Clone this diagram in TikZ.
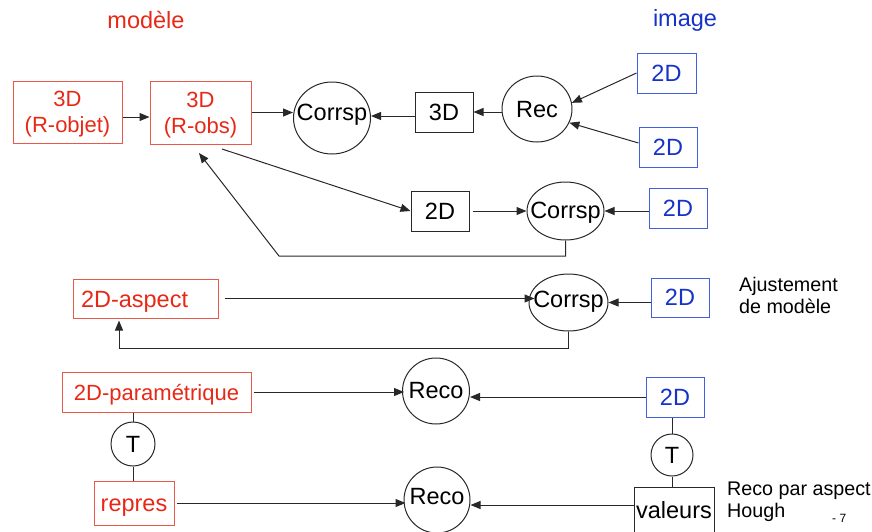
\documentclass[tikz,border=0pt]{standalone}
\usepackage{fontspec}
\setmainfont{Liberation Sans}
\usetikzlibrary{arrows.meta,shapes.geometric}
\definecolor{mred}{RGB}{232,40,22}
\definecolor{mredline}{RGB}{234,88,72}
\definecolor{iblue}{RGB}{22,50,200}
\definecolor{ibline}{RGB}{66,96,222}
\definecolor{ink}{RGB}{40,40,40}
\newcommand{\zerow}[1]{\makebox[0pt][c]{#1}}
\tikzset{
  big/.style={font=\fontsize{23.5}{27}\selectfont},
  mid/.style={font=\fontsize{22}{26}\selectfont},
  note/.style={font=\fontsize{19.7}{22}\selectfont, inner sep=0pt, anchor=base west},
  bx/.style={draw, rectangle, inner sep=0pt, line width=1pt, big},
  redbox/.style={bx, draw=mredline, text=mred, align=center},
  bluebox/.style={bx, draw=ibline, text=iblue},
  blackbox/.style={bx, draw=ink, text=black},
  oval/.style={draw=ink, ellipse, inner sep=0pt, line width=1pt, big, text height=17pt},
  arr/.style={draw=ink, line width=1pt, -{Triangle[length=10pt,width=8pt]}},
  ln/.style={draw=ink, line width=1pt},
}
\begin{document}
\begin{tikzpicture}[x=1pt, y=-1pt]
\useasboundingbox (0,0) rectangle (872,531);
\clip (0,0) rectangle (872,531);

% column headings
\node[big, text=mred] (hmod) at (146,20) {modèle};
\node[big, text=iblue] (himg) at (685,20) {image};

% first row: 3D reconstruction
\node[redbox, mid, text depth=0pt, minimum width=109pt, minimum height=62pt] (robjet) at (67.5,112) {3D\\(R-objet)};
\node[redbox, mid, text depth=0pt, minimum width=101pt, minimum height=63pt] (robs) at (200.5,112.5) {3D\\(R-obs)};
\node[oval, text depth=13pt, minimum width=77pt, minimum height=72pt] (c1) at (332,118) {\zerow{Corrsp}};
\node[blackbox, minimum width=58pt, minimum height=40pt] (b3d) at (444,112) {3D};
\node[oval, text depth=0pt, minimum width=70pt, minimum height=66pt] (rec) at (537,109) {\zerow{Rec}};
\node[bluebox, minimum width=59pt, minimum height=40pt] (i1) at (666.5,73) {2D};
\node[bluebox, minimum width=58pt, minimum height=40pt] (i2) at (668,147) {2D};

% second row: projection
\node[blackbox, minimum width=58pt, minimum height=40pt] (b2d) at (440,211) {2D};
\node[oval, text depth=3pt, minimum width=77pt, minimum height=58pt] (c2) at (565.5,211) {\zerow{Corrsp}};
\node[bluebox, minimum width=58pt, minimum height=40pt] (i3) at (678,208) {2D};
\coordinate (s1) at (222,149);
\coordinate (s2) at (199,153);
\coordinate (fb1) at (279,256);

% third row: aspect
\node[redbox, text height=17pt, text depth=0pt, minimum height=39pt, text width=129pt, align=left, inner xsep=8pt] (aspect) at (145.5,298.5) {2D-aspect};
\node[oval, text depth=8pt, minimum width=79pt, minimum height=57pt] (c3) at (568.5,302.5) {\zerow{Corrsp}};
\node[bluebox, minimum width=58pt, minimum height=39pt] (i4) at (680,297.5) {2D};
\coordinate (fb2) at (119,348);
\node[note] (aj1) at (739,291) {Ajustement};
\node[note] (aj2) at (739,313) {de modèle};

% fourth and fifth rows: parametric recognition
\node[redbox, mid, text height=17pt, text depth=1pt, minimum width=189pt, minimum height=40pt] (param) at (156.5,392) {2D-paramétrique};
\node[oval, text depth=3pt, minimum width=67pt, minimum height=66pt] (reco1) at (436,391) {\zerow{Reco}};
\node[bluebox, minimum width=58pt, minimum height=40pt] (i5) at (675,397) {2D};
\node[oval, text depth=0pt, minimum width=44pt, minimum height=44pt] (tl) at (133,444) {T};
\node[oval, text depth=0pt, minimum width=42pt, minimum height=42pt] (tr) at (672,455) {T};
\node[redbox, text height=17pt, text depth=0pt, minimum width=80pt, minimum height=44pt] (repres) at (134,503) {repres};
\node[oval, text depth=9pt, minimum width=66pt, minimum height=66pt] (reco2) at (437,500) {\zerow{Reco}};
\node[blackbox, minimum width=80pt, minimum height=46pt] (valeurs) at (674,510) {valeurs};
\node[note] (rp1) at (727,495) {Reco par aspect};
\node[note] (rp2) at (727,517) {Hough};
\node[font=\fontsize{12}{14}\selectfont, inner sep=0pt, anchor=base west] (pg) at (832,522) {- 7};

% connectors, first row
\draw[arr] ([yshift=-5pt]robjet.east) -- ([yshift=-5pt]robjet.east -| robs.west);
\draw[arr] (robs.east) -- (robs.east -| c1.west);
\draw[arr] ([yshift=-4pt]b3d.west) -- ([yshift=-4pt]b3d.west -| c1.east);
\draw[arr] (b3d.east -| rec.west) -- (b3d.east);
\draw[arr] (i1.west) -- (rec.10);
\draw[arr] ([yshift=4pt]i2.west) -- (rec.-23);

% connectors, second row
\draw[arr] (s1) -- (b2d.west);
\draw[arr] ([xshift=3pt]b2d.east) -- (c2.west);
\draw[arr] (i3.west |- c2.east) -- (c2.east);
\draw[arr] (c2.south) |- (fb1) -- (s2);

% connectors, third row
\draw[arr] ([xshift=6pt]aspect.east) -- ([xshift=6pt]aspect.east -| c3.west);
\draw[arr] (i4.west |- c3.east) -- (c3.east);
\draw[arr] (c3.south) |- (fb2) -- ([yshift=-2pt]aspect.south -| fb2);

% connectors, parametric rows
\draw[arr] ([xshift=2pt]param.east) -- ([xshift=2pt]param.east -| reco1.west);
\draw[arr] ([xshift=2pt]repres.east) -- ([xshift=2pt]repres.east -| reco2.west);
\draw[arr] (i5.west) -- (i5.west -| reco1.east);
\draw[arr] ([yshift=5pt]valeurs.west) -- ([yshift=5pt]valeurs.west -| reco2.east);
\draw[ln] (tl.north |- param.south) -- (tl.north);
\draw[ln] (tl.south) -- (tl.south |- repres.north);
\draw[ln] (tr.north |- i5.south) -- (tr.north);
\draw[ln] (tr.south) -- (tr.south |- valeurs.north);
\end{tikzpicture}
\end{document}
